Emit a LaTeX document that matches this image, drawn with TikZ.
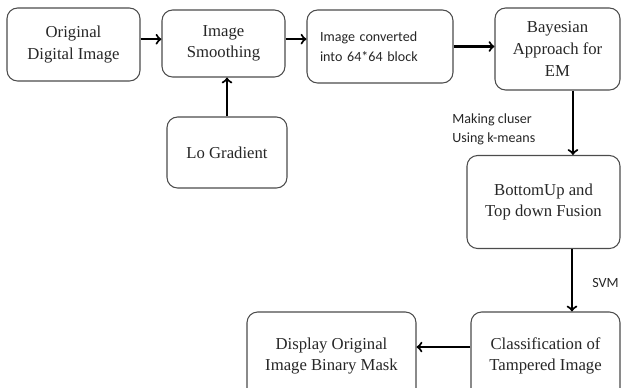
\documentclass[tikz,border=0pt]{standalone}
\usepackage{fontspec}
\setmainfont{Liberation Serif}
\newfontfamily\calib{Carlito}

\tikzstyle{block}=[shape=rectangle,draw=black!70,line width=0.6pt,rounded corners=6pt,align=center,inner sep=0pt,text=black!85,font=\fontsize{9.5}{12.3}\selectfont]
\tikzstyle{note}=[text=black!85,align=left,inner sep=0pt,font=\calib\fontsize{8}{11}\selectfont]
\tikzstyle{mainedge}=[->,line width=1.2pt]

\begin{document}
\begin{tikzpicture}[x=0.02cm,y=-0.02cm]
\useasboundingbox (0,0) rectangle (622,387);
\clip (0,0) rectangle (622,387);
% top row
\node[block,minimum width=2.66cm,minimum height=1.46cm] (b1) at (73.5,44.5) {Original\\Digital Image};
\node[block,minimum width=2.46cm,minimum height=1.34cm] (b2) at (223.5,43.5) {Image\\Smoothing};
\node[block,note,draw=black!70,rounded corners=6pt,line width=0.6pt,minimum width=2.92cm,minimum height=1.46cm,text width=2.4cm,inner xsep=0.26cm] (b3) at (380,46.5) {Image converted\\into 64*64 block};
\node[block,minimum width=2.5cm,minimum height=1.64cm] (b4) at (557.5,49) {Bayesian\\Approach for\\EM};
% below smoothing
\node[block,minimum width=2.4cm,minimum height=1.42cm] (lo) at (227,152.5) {Lo Gradient};
% right column
\node[block,minimum width=3.06cm,minimum height=1.86cm] (b5) at (543.5,202) {BottomUp and\\Top down Fusion};
\node[block,minimum width=2.98cm,minimum height=1.76cm] (b6) at (545.5,356) {Classification of\\Tampered Image};
% bottom row
\node[block,minimum width=3.38cm,minimum height=1.76cm] (b7) at (331.5,356) {Display Original\\Image Binary Mask};
% labels
\node[note,anchor=west] (lab1) at (452,129) {Making cluser\\Using k-means};
\node[note,anchor=west] (lab2) at (592,283) {SVM};
% arrows
\draw[mainedge] ([yshift=3pt]b1.east) -- ([yshift=3pt]b1.east -| b2.west);
\draw[mainedge] ([yshift=2.5pt]b2.east) -- ([yshift=2.5pt]b2.east -| b3.west);
\draw[mainedge] (b3.east) -- (b3.east -| b4.west);
\draw[mainedge] (lo.north) -- (lo.north |- b2.south);
\draw[mainedge] ([xshift=8.8pt]b4.south) -- ([xshift=8.8pt]b4.south |- b5.north);
\draw[mainedge] ([xshift=16.2pt]b5.south) -- ([xshift=16.2pt]b5.south |- b6.north);
\draw[mainedge] ([yshift=5.1pt]b6.west) -- ([yshift=5.1pt]b6.west -| b7.east);
\end{tikzpicture}
\end{document}
